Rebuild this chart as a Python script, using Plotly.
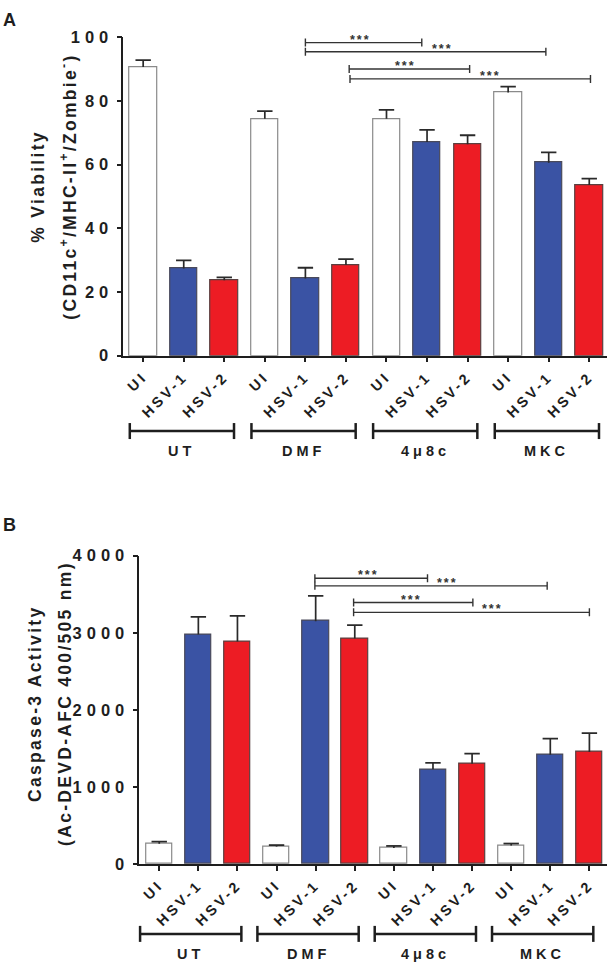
import plotly.graph_objects as go

W, H = 614, 974
FONT = "Liberation Sans, Arial, Helvetica, sans-serif"
INK = "#1e1e1e"

# ---------------- data ----------------
conditions = ["UI", "HSV-1", "HSV-2"]
treatments = ["UT", "DMF", "4μ8c", "MKC"]

viability = [90.6, 27.4, 23.7, 74.4, 24.2, 28.5, 74.4, 67.1, 66.4, 82.6, 60.6, 53.6]
viability_sem = [2.2, 2.5, 0.9, 2.4, 3.4, 1.8, 2.8, 3.8, 2.8, 1.9, 3.2, 2.0]

caspase = [262, 2977, 2888, 225, 3150, 2926, 208, 1227, 1299, 238, 1418, 1452]
caspase_sem = [27, 229, 331, 19, 328, 174, 25, 85, 132, 26, 209, 246]

y_ticks_a = [0, 20, 40, 60, 80, 100]
y_ticks_b = [0, 1000, 2000, 3000, 4000]

# significance comparisons: (from bar, to bar, bracket level, star centre)
sig_a = [(4.0, 6.87, 98.3, 5.37), (4.0, 9.93, 95.4, 7.39),
         (5.08, 8.05, 90.0, 6.48), (5.1, 11.03, 86.9, 8.56)]
sig_b = [(3.98, 6.86, 3707, 5.36), (3.98, 9.92, 3609, 7.38),
         (4.97, 8.02, 3392, 6.45), (4.97, 11.0, 3265, 8.53)]
sig_label = "***"

# ---------------- styling ----------------
fill = {"UI": "#FFFFFF", "HSV-1": "#3A53A4", "HSV-2": "#ED1C24"}
edge = {"UI": "#8a8a8a", "HSV-1": "#4a4a5a", "HSV-2": "#5a4040"}

labels = [c for _ in treatments for c in conditions]
xpos = list(range(len(labels)))
BAR_W = 0.673


def px(x):
    return x / W


def py(y):
    return 1 - y / H


def spaced(t, ls):
    return f'<span style="letter-spacing:{ls}px">{t}</span>'


def bold(size):
    return dict(family=FONT, size=size, color=INK, weight="bold")


panels = [
    dict(vals=viability, sem=viability_sem, xa="x", ya="y", ticks=y_ticks_a,
         xdom=[px(123.3), px(606.7)], ydom=[py(353.2), py(28.7)],
         xr=[-0.49, 11.43], yr=[0, 100], sig=sig_a, tick_px=4,
         grp=(-0.33, 2.24), grp_y=430, grp_lab_y=450.7,
         letter="A", letter_y=11,
         title=["% Viability",
                "(CD11c<sup>+</sup>/MHC-II<sup>+</sup>/Zombie<sup>-</sup>)"],
         title_x=[38, 68], title_y=181),
    dict(vals=caspase, sem=caspase_sem, xa="x2", ya="y2", ticks=y_ticks_b,
         xdom=[px(139.3), px(607.0)], ydom=[py(871.0), py(557.0)],
         xr=[-0.51, 11.45], yr=[0, 4000], sig=sig_b, tick_px=4,
         grp=(-0.49, 2.10), grp_y=942.3, grp_lab_y=963.3,
         letter="B", letter_y=526,
         title=["Caspase-3 Activity", "(Ac-DEVD-AFC 400/505 nm)"],
         title_x=[35, 65], title_y=708),
]

fig = go.Figure()
shapes, annotations = [], []
layout = {}

for k, p in enumerate(panels):
    # bars
    fig.add_trace(go.Bar(
        x=xpos, y=p["vals"], width=BAR_W,
        marker=dict(color=[fill[c] for c in labels],
                    line=dict(color=[edge[c] for c in labels], width=1.2)),
        xaxis=p["xa"], yaxis=p["ya"], hoverinfo="skip"))
    # error stems (upper only)
    sx, sy = [], []
    for i, (v, e) in enumerate(zip(p["vals"], p["sem"])):
        sx += [i, i, None]
        sy += [v, v + e, None]
    fig.add_trace(go.Scatter(x=sx, y=sy, mode="lines",
                             line=dict(color="#2a2a2a", width=1.7),
                             xaxis=p["xa"], yaxis=p["ya"], hoverinfo="skip"))
    fig.add_trace(go.Scatter(
        x=xpos, y=[v + e for v, e in zip(p["vals"], p["sem"])], mode="markers",
        marker=dict(symbol="line-ew", size=11,
                    line=dict(color="#2a2a2a", width=1.8)),
        xaxis=p["xa"], yaxis=p["ya"], hoverinfo="skip"))

    xname = "xaxis" if k == 0 else "xaxis2"
    yname = "yaxis" if k == 0 else "yaxis2"
    layout[xname] = dict(
        domain=p["xdom"], range=p["xr"], anchor=p["ya"],
        tickmode="array", tickvals=xpos,
        ticktext=[spaced(t, 3.2) for t in labels],
        tickangle=-45, ticks="outside", ticklen=5, tickwidth=1.5,
        tickcolor=INK, showline=True, linecolor=INK, linewidth=1.5,
        showgrid=False, zeroline=False, tickfont=bold(14.5), fixedrange=True)
    layout[yname] = dict(
        domain=p["ydom"], range=p["yr"], anchor=p["xa"],
        tickmode="array", tickvals=p["ticks"],
        ticktext=[spaced(str(t), 5) for t in p["ticks"]],
        ticks="outside", ticklen=5, tickwidth=1.5, tickcolor=INK,
        showline=True, linecolor=INK, linewidth=1.5,
        showgrid=False, zeroline=False, tickfont=bold(16.5), fixedrange=True)

    # significance brackets
    for (a, b, lvl, sx_) in p["sig"]:
        shapes.append(dict(type="line", xref=p["xa"], yref=p["ya"],
                           x0=a, x1=b, y0=lvl, y1=lvl,
                           line=dict(color="#333", width=1.4)))
        for xe in (a, b):
            shapes.append(dict(type="line", xref=p["xa"], yref=p["ya"],
                               ysizemode="pixel", yanchor=lvl,
                               x0=xe, x1=xe, y0=-p["tick_px"], y1=p["tick_px"],
                               line=dict(color="#333", width=1.4)))
        annotations.append(dict(x=sx_, y=lvl, xref=p["xa"], yref=p["ya"],
                                text=spaced(sig_label, 2), showarrow=False,
                                xanchor="center", yanchor="middle", yshift=3,
                                font=dict(family=FONT, size=12.5, color="#333",
                                          weight="bold")))

    # treatment group brackets beneath the axis
    r0, r1 = p["xr"]

    def dom(u):
        return (u - r0) / (r1 - r0)

    for g, name in enumerate(treatments):
        a = g * len(conditions) + p["grp"][0]
        b = g * len(conditions) + p["grp"][1]
        xd = "x domain" if k == 0 else "x2 domain"
        shapes.append(dict(type="line", xref=xd, yref="paper",
                           x0=dom(a), x1=dom(b), y0=py(p["grp_y"]), y1=py(p["grp_y"]),
                           line=dict(color=INK, width=2.5)))
        for xe in (a, b):
            shapes.append(dict(type="line", xref=xd, yref="paper",
                               ysizemode="pixel", yanchor=py(p["grp_y"]),
                               x0=dom(xe), x1=dom(xe), y0=-8, y1=8,
                               line=dict(color=INK, width=2.5)))
        annotations.append(dict(x=dom((a + b) / 2), y=py(p["grp_lab_y"]),
                                xref=xd, yref="paper",
                                text=spaced(name, 4), showarrow=False,
                                xanchor="center", yanchor="middle",
                                font=bold(14.5)))

    # panel letter
    annotations.append(dict(x=px(1), y=py(p["letter_y"]), xref="paper", yref="paper",
                            text=p["letter"], showarrow=False,
                            xanchor="left", yanchor="middle", font=bold(18)))
    # y titles (two lines)
    for line_txt, tx in zip(p["title"], p["title_x"]):
        annotations.append(dict(x=px(tx), y=py(p["title_y"]), xref="paper", yref="paper",
                                text=spaced(line_txt, 2.3), showarrow=False,
                                textangle=-90, xanchor="center", yanchor="middle",
                                font=bold(17.5)))

fig.update_layout(
    width=W, height=H, margin=dict(l=0, r=0, t=0, b=0),
    paper_bgcolor="white", plot_bgcolor="white", showlegend=False,
    bargap=0, shapes=shapes, annotations=annotations, **layout)

fig.write_html("out.html", config={"displayModeBar": False},
               post_script="document.body.style.margin='0px';"
                           "document.body.style.padding='0px';")
